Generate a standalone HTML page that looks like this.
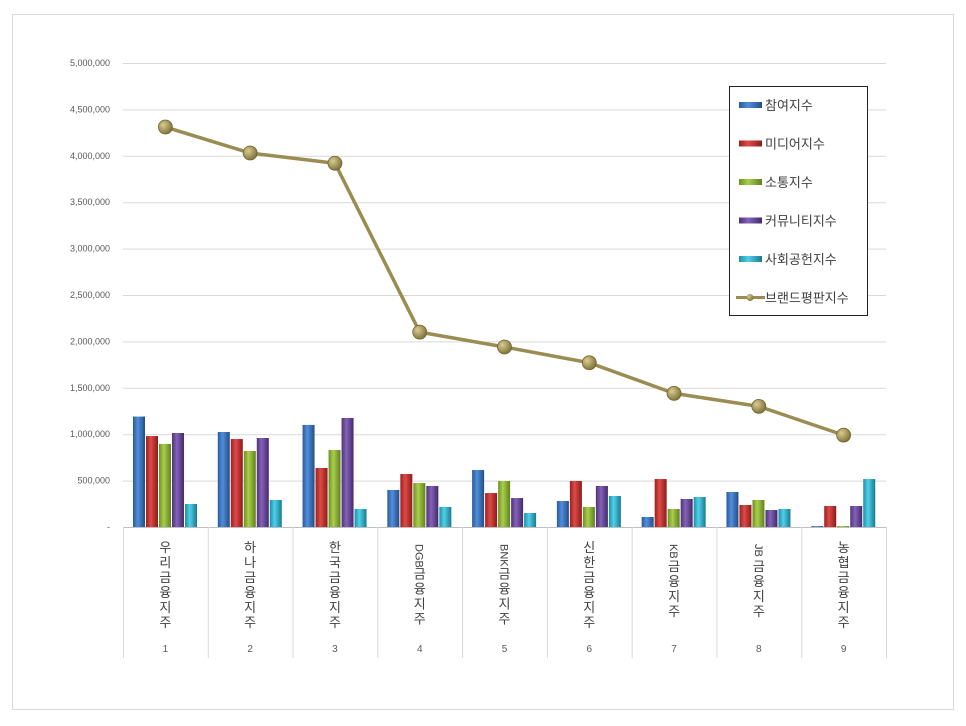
<!DOCTYPE html>
<html><head><meta charset="utf-8"><style>
body{margin:0;background:#fff;}
svg text{font-family:"Liberation Sans","Noto Sans CJK KR",sans-serif;}
</style></head><body>
<svg id="chart" width="966" height="721" viewBox="0 0 966 721" xmlns="http://www.w3.org/2000/svg">
<defs>
<linearGradient id="g0" x1="0" x2="1"><stop offset="0" stop-color="#2a5a9a"/><stop offset="0.4" stop-color="#4f8fdc"/><stop offset="1" stop-color="#234d85"/></linearGradient>
<linearGradient id="g1" x1="0" x2="1"><stop offset="0" stop-color="#9a2020"/><stop offset="0.4" stop-color="#de4a46"/><stop offset="1" stop-color="#8a1c1c"/></linearGradient>
<linearGradient id="g2" x1="0" x2="1"><stop offset="0" stop-color="#6f8f22"/><stop offset="0.4" stop-color="#a8cf4c"/><stop offset="1" stop-color="#627f1e"/></linearGradient>
<linearGradient id="g3" x1="0" x2="1"><stop offset="0" stop-color="#4e3378"/><stop offset="0.4" stop-color="#8462b8"/><stop offset="1" stop-color="#43296a"/></linearGradient>
<linearGradient id="g4" x1="0" x2="1"><stop offset="0" stop-color="#1f8ea6"/><stop offset="0.4" stop-color="#4fd0e8"/><stop offset="1" stop-color="#197a8f"/></linearGradient>
<radialGradient id="gm" cx="0.35" cy="0.35" r="0.7"><stop offset="0" stop-color="#d8cc90"/><stop offset="1" stop-color="#7d7038"/></radialGradient>
</defs>
<rect x="12.5" y="14.5" width="941" height="695" fill="#fff" stroke="#d9d9d9"/>
<g id="grid"></g><g id="bars"></g><g id="line"></g><g id="xaxis"></g>
<g>
<rect x="729.5" y="86.5" width="138" height="229" fill="#fff" stroke="#222"/>
<g id="legend"></g>
</g>
</svg>
<script>
const categories=["우리금융지주","하나금융지주","한국금융지주","DGB금융지주","BNK금융지주","신한금융지주","KB금융지주","JB금융지주","농협금융지주"];
const catNumbers=["1","2","3","4","5","6","7","8","9"];
const seriesNames=["참여지수","미디어지수","소통지수","커뮤니티지수","사회공헌지수"];
const participation=[1190000,1024000,1100000,399000,614000,280000,108000,377000,10000];
const media=[980000,948000,636000,571000,366000,496000,517000,237000,226000];
const communication=[895000,819000,830000,474000,496000,216000,194000,291000,10000];
const community=[1013000,959000,1175000,442000,312000,442000,302000,183000,226000];
const social=[248000,291000,194000,216000,151000,334000,323000,194000,517000];
const lineName="브랜드평판지수";
const brandIndex=[4310000,4030000,3920000,2100000,1940000,1770000,1440000,1300000,990000];
const yTicks=[0,500000,1000000,1500000,2000000,2500000,3000000,3500000,4000000,4500000,5000000];
const yTickLabels=["-","500,000","1,000,000","1,500,000","2,000,000","2,500,000","3,000,000","3,500,000","4,000,000","4,500,000","5,000,000"];

const NS="http://www.w3.org/2000/svg";
const X0=123,X1=886,Y0=527,Y1=63,YMAX=5000000;
const gw=(X1-X0)/categories.length;
const y=v=>Y0-(v/YMAX)*(Y0-Y1);
const xc=i=>X0+gw*(i+0.5);
function mk(tag,attrs,parent){const e=document.createElementNS(NS,tag);for(const k in attrs)e.setAttribute(k,attrs[k]);parent.appendChild(e);return e;}
const grid=document.getElementById('grid');
yTicks.forEach((t,i)=>{
  if(t>0){const l=mk('line',{x1:X0,x2:X1,y1:y(t)+0.5,y2:y(t)+0.5,stroke:'#d9d9d9'},grid);
  
  }
  const tx=mk('text',{x:110,y:y(t)+3,'text-anchor':'end','font-size':9,fill:'#595959'},grid);
  tx.textContent=yTickLabels[i];
  
  
});
const xa=document.getElementById('xaxis');
mk('line',{x1:X0,x2:X1,y1:Y0+0.5,y2:Y0+0.5,stroke:'#bfbfbf'},xa);
for(let i=0;i<=categories.length;i++){mk('line',{x1:X0+gw*i+0.5,x2:X0+gw*i+0.5,y1:Y0,y2:658,stroke:'#d9d9d9'},xa);}
categories.forEach((c,i)=>{
  const g=mk('g',{},xa);
  
  
  let yy=548;
  const chars=[...c];
  let k=0;
  while(k<chars.length){
    let ch=chars[k];
    if(/[A-Z]/.test(ch)){let s='';while(k<chars.length&&/[A-Z]/.test(chars[k])){s+=chars[k];k++;}
      const t=mk('text',{x:xc(i)-4,y:yy-4,'font-size':11,fill:'#404040',transform:`rotate(90 ${xc(i)-4} ${yy-4})`},g);t.textContent=s;yy+=s.length*7.5+4;continue;}
    const t=mk('text',{x:xc(i),y:yy+4,'text-anchor':'middle','font-size':13,fill:'#404040'},g);t.textContent=ch;yy+=15;k++;
  }
  const n=mk('text',{x:xc(i),y:652,'text-anchor':'middle','font-size':10,fill:'#595959'},xa);
  n.textContent=catNumbers[i];
  
  
});
const series=[participation,media,communication,community,social];
const bars=document.getElementById('bars');
series.forEach((s,si)=>{s.forEach((v,i)=>{
  const bx=X0+i*gw+10+si*13;
  const r=mk('rect',{x:bx,y:y(v),width:12,height:Y0-y(v),fill:`url(#g${si})`},bars);
  
  
});});
const lg=document.getElementById('line');
const pts=brandIndex.map((v,i)=>xc(i)+','+y(v)).join(' ');
const pl=mk('polyline',{points:pts,fill:'none',stroke:'#9a8c52',"stroke-width":3.5,"stroke-linejoin":'round'},lg);


brandIndex.forEach((v,i)=>{
  const c=mk('circle',{cx:xc(i),cy:y(v),r:7,fill:'url(#gm)',stroke:'#6f6430','stroke-width':0.8},lg);
  
  
});
const leg=document.getElementById('legend');
seriesNames.concat([lineName]).forEach((n,i)=>{
  const ly=105+i*38.5;
  const g=mk('g',{},leg);
  
  
  if(i<5){mk('rect',{x:739,y:ly-3,width:23,height:6,fill:`url(#g${i})`},g);}
  else{mk('line',{x1:736,x2:765,y1:ly,y2:ly,stroke:'#9a8c52','stroke-width':3},g);mk('circle',{cx:750,cy:ly,r:3.5,fill:'url(#gm)'},g);}
  const t=mk('text',{x:765,y:ly+5,'font-size':13,fill:'#404040'},g);t.textContent=n;
});
</script>
</body></html>
